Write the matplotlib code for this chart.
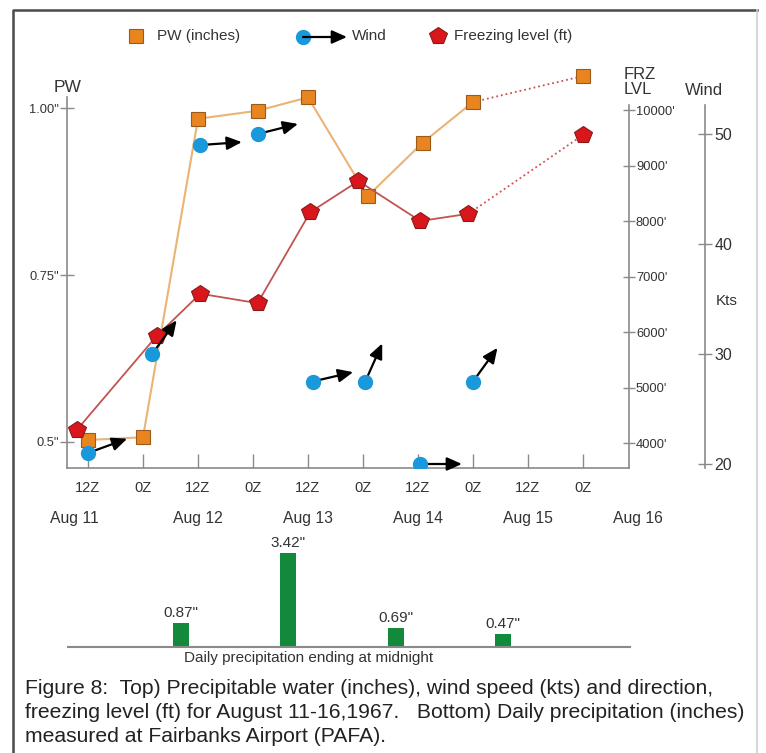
import numpy as np
import matplotlib.pyplot as plt

plt.rcParams['font.family'] = ['Liberation Sans', 'DejaVu Sans']

# time axis: hours after 00Z Aug 11, 1967
tick_hours = [12, 24, 36, 48, 60, 72, 84, 96, 108, 120]
tick_labels = ['12Z', '0Z', '12Z', '0Z', '12Z', '0Z', '12Z', '0Z', '12Z', '0Z']
day_hours = [9, 36, 60, 84, 108, 132]
day_labels = ['Aug 11', 'Aug 12', 'Aug 13', 'Aug 14', 'Aug 15', 'Aug 16']

# precipitable water (inches)
pw_hours = [12, 24, 36, 49, 60, 73, 85, 96, 120]
pw_inches = [0.503, 0.507, 0.984, 0.996, 1.016, 0.868, 0.948, 1.009, 1.048]

# freezing level (ft)
frz_hours = [9.5, 27, 36.5, 49, 60.5, 71, 84.5, 95, 120]
frz_ft = [4230, 5930, 6690, 6520, 8160, 8720, 8000, 8130, 9550]

# wind speed (kts) and arrow direction (deg above east)
wind_hours = [12, 26, 36.5, 49, 61, 72.5, 84.5, 96]
wind_kts = [21, 30, 49, 50, 27.5, 27.5, 20, 27.5]
wind_dir = [20, 54, 4, 14, 13, 66, 0, 54]

# daily precipitation at PAFA (inches)
precip_in = [0.87, 3.42, 0.69, 0.47]
precip_labels = ['0.87"', '3.42"', '0.69"', '0.47"']

W, H = 766, 753
fig = plt.figure(figsize=(W / 100, H / 100), dpi=100)


def box(x0, y0, x1, y1):
    # pixel box (top-left origin) -> figure fraction rect
    return [x0 / W, 1 - y1 / H, (x1 - x0) / W, (y1 - y0) / H]


grey = '#8a8a8a'
txt = '#333333'
arrow_kw = dict(arrowstyle='<|-,head_length=0.9,head_width=0.4', color='black',
                lw=1.6, shrinkA=0, shrinkB=0, mutation_scale=10)

# overlay for frame, legend and caption, in pixel units
ov = fig.add_axes([0, 0, 1, 1])
ov.set_xlim(0, W)
ov.set_ylim(H, 0)
ov.axis('off')
ov.plot([13, 13, 757], [H, 10, 10], color='#4a4a4a', lw=1.8)
ov.plot([757, 757], [10, H], color='#cfcfcf', lw=1.2)

# legend
ov.plot(136, 36, 's', ms=10.5, mfc='#e8851f', mec='#9c5a1a', mew=0.8)
ov.text(157, 36, 'PW (inches)', fontsize=11, color=txt, va='center')
ov.annotate('', xy=(303, 37), xytext=(347, 37), arrowprops=arrow_kw)
ov.plot(303, 37, 'o', ms=10, mfc='#1a98dc', mec='#1a98dc')
ov.text(352, 36, 'Wind', fontsize=11, color=txt, va='center')
ov.plot(438, 36, 'p', ms=13, mfc='#d9161c', mec='#8b1a1a', mew=0.8)
ov.text(454, 36, 'Freezing level (ft)', fontsize=11, color=txt, va='center')

# axis titles
ov.text(68, 87, 'PW', fontsize=12.5, color=txt, ha='center', va='center')
ov.text(624, 82, 'FRZ\nLVL', fontsize=12, color=txt, ha='left', va='center',
        linespacing=1.0)
ov.text(704, 90, 'Wind', fontsize=12, color=txt, ha='center', va='center')
ov.text(727, 301, 'Kts', fontsize=11, color=txt, ha='center', va='center')
ov.text(309, 658, 'Daily precipitation ending at midnight', fontsize=11,
        color=txt, ha='center', va='center')

caption = ['Figure 8:  Top) Precipitable water (inches), wind speed (kts) and direction,',
           'freezing level (ft) for August 11-16,1967.   Bottom) Daily precipitation (inches)',
           'measured at Fairbanks Airport (PAFA).']
for i, line in enumerate(caption):
    ov.text(25, 688 + 24 * i, line, fontsize=15.2, color='#222222', va='center')

# main axes: PW (left)
ax = fig.add_axes(box(67, 60, 629, 468))
ax.set_facecolor('none')
ax.set_xlim(7.42, 130.04)
ax.set_ylim(0.461, 1.072)
for s in ['top', 'right']:
    ax.spines[s].set_visible(False)
ax.spines['left'].set_bounds(0.461, 1.016)
for s in ['left', 'bottom']:
    ax.spines[s].set_color(grey)
    ax.spines[s].set_linewidth(1.2)
ax.set_xticks(tick_hours, tick_labels)
ax.tick_params(axis='x', direction='in', length=10, width=1, color=grey,
               pad=9, labelsize=10.5, labelcolor=txt)
ax.set_yticks([0.5, 0.75, 1.0], ['0.5"', '0.75"', '1.00"'])
ax.tick_params(axis='y', direction='inout', length=10, width=1, color=grey,
               pad=1, labelsize=9.3, labelcolor=txt)
for h, lab in zip(day_hours, day_labels):
    ax.text(h, -0.125, lab, transform=ax.get_xaxis_transform(), fontsize=11.3,
            color=txt, ha='center', va='center')

# freezing level axis
ax2 = ax.twinx()
ax2.set_ylim(3550, 10901)
for s in ['top', 'left', 'bottom']:
    ax2.spines[s].set_visible(False)
ax2.spines['right'].set_bounds(3550, 10090)
ax2.spines['right'].set_color(grey)
ax2.spines['right'].set_linewidth(1.2)
frz_ticks = [4000, 5000, 6000, 7000, 8000, 9000, 10000]
ax2.set_yticks(frz_ticks, [f"{t}'" for t in frz_ticks])
ax2.tick_params(axis='y', direction='inout', length=8, width=1, color=grey,
                pad=1, labelsize=9.3, labelcolor=txt)

# wind axis
ax3 = ax.twinx()
ax3.set_ylim(19.636, 56.73)
for s in ['top', 'left', 'bottom']:
    ax3.spines[s].set_visible(False)
ax3.spines['right'].set_position(('axes', 1.1352))
ax3.spines['right'].set_bounds(19.6, 52.6)
ax3.spines['right'].set_color(grey)
ax3.spines['right'].set_linewidth(1.2)
ax3.set_yticks([20, 30, 40, 50])
ax3.tick_params(axis='y', direction='inout', length=10, width=1, color=grey,
                pad=2, labelsize=11.5, labelcolor=txt)

# PW series
ax.plot(pw_hours[:8], pw_inches[:8], color='#e9b476', lw=1.5, zorder=2)
ax.plot(pw_hours[7:], pw_inches[7:], color='#d05050', lw=1.3, ls=':', zorder=2)
ax.plot(pw_hours, pw_inches, 's', ms=10.5, mfc='#e8851f', mec='#9c5a1a',
        mew=0.8, zorder=3)

# freezing level series
ax2.plot(frz_hours[:8], frz_ft[:8], color='#c25450', lw=1.3, zorder=2)
ax2.plot(frz_hours[7:], frz_ft[7:], color='#d05050', lw=1.3, ls=':', zorder=2)
ax2.plot(frz_hours, frz_ft, 'p', ms=13, mfc='#d9161c', mec='#8b1a1a',
         mew=0.8, zorder=3)

# wind dots and arrows
L = 30  # arrow length, points
for h, k, d in zip(wind_hours, wind_kts, wind_dir):
    a = np.deg2rad(d)
    ax3.annotate('', xy=(h, k), xytext=(L * np.cos(a), L * np.sin(a)),
                 textcoords='offset points', arrowprops=arrow_kw, zorder=4)
ax3.plot(wind_hours, wind_kts, 'o', ms=10, mfc='#1a98dc', mec='#1a98dc',
         zorder=5)

# precipitation bars
axb = fig.add_axes(box(68, 535, 630, 647))
axb.set_facecolor('none')
axb.set_xlim(-1.053, 4.184)
axb.set_ylim(0, 112 / 27.5)
xb = np.arange(len(precip_in))
bars = axb.bar(xb, precip_in, width=0.15, color='#138a3b')
for b, lab in zip(bars, precip_labels):
    axb.annotate(lab, (b.get_x() + b.get_width() / 2, b.get_height()),
                 xytext=(0, 2), textcoords='offset points', ha='center',
                 va='bottom', fontsize=11, color=txt)
for s in ['top', 'left', 'right']:
    axb.spines[s].set_visible(False)
axb.spines['bottom'].set_color(grey)
axb.spines['bottom'].set_linewidth(1.5)
axb.set_xticks([])
axb.set_yticks([])

fig.savefig('out.png', dpi=100)
